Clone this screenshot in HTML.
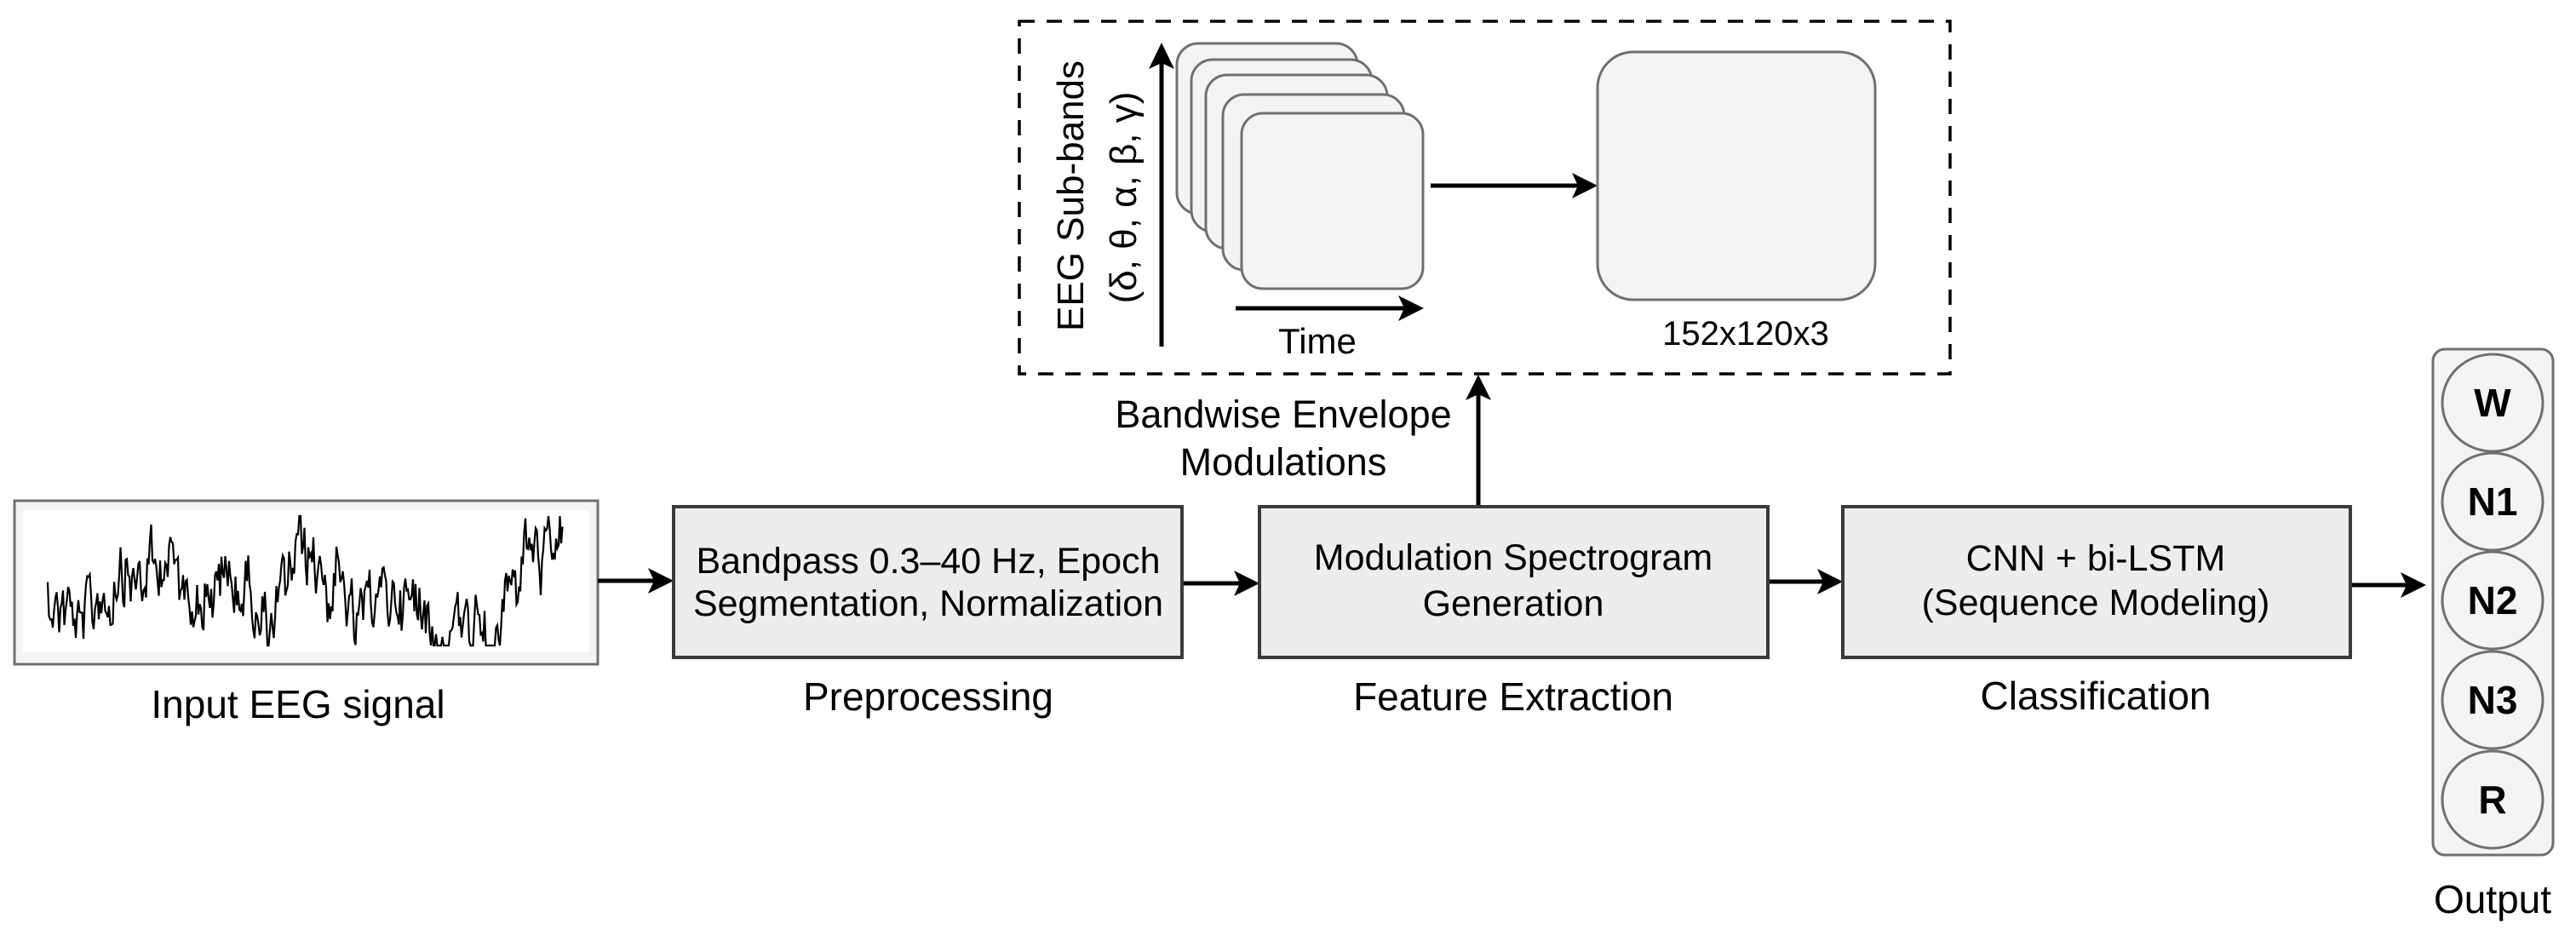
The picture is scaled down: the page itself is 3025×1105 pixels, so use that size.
<!DOCTYPE html>
<html><head><meta charset="utf-8"><style>
html,body{margin:0;padding:0;background:#fff;}
svg{display:block;}
text{font-family:"Liberation Sans",Arial,sans-serif;fill:#000;}
</style></head><body>
<svg width="3025" height="1105" viewBox="0 0 3025 1105" xmlns="http://www.w3.org/2000/svg">
<!-- dashed box -->
<rect x="1197" y="25" width="1093" height="414" fill="none" stroke="#000" stroke-width="3.5" stroke-dasharray="18,14"/>
<!-- y axis -->
<line x1="1364" y1="407" x2="1364" y2="72" stroke="#000" stroke-width="5"/>
<polygon points="1364,50 1349,81 1364,74 1379,81" fill="#000"/>
<text transform="translate(1272,230) rotate(-90)" text-anchor="middle" font-size="44">EEG Sub-bands</text>
<text transform="translate(1334,232) rotate(-90)" text-anchor="middle" font-size="44">(δ, θ, α, β, γ)</text>
<!-- cards -->
<g fill="#f4f4f4" stroke="#707070" stroke-width="3">
<rect x="1382" y="51" width="212" height="200" rx="25"/>
<rect x="1399" y="70" width="212" height="202" rx="25"/>
<rect x="1416" y="88" width="213" height="204" rx="25"/>
<rect x="1436" y="111" width="213" height="206" rx="25"/>
<rect x="1458" y="133" width="213" height="206" rx="25"/>
</g>
<!-- time arrow -->
<line x1="1451" y1="362" x2="1650" y2="362" stroke="#000" stroke-width="5"/>
<polygon points="1672,362 1642,347 1649,362 1642,377" fill="#000"/>
<text x="1547" y="415" text-anchor="middle" font-size="42">Time</text>
<!-- arrow to big box -->
<line x1="1680" y1="218" x2="1855" y2="218" stroke="#000" stroke-width="5"/>
<polygon points="1876,218 1846,203 1853,218 1846,233" fill="#000"/>
<rect x="1876" y="61" width="326" height="291" rx="42" fill="#f4f4f4" stroke="#707070" stroke-width="3"/>
<text x="2050" y="405" text-anchor="middle" font-size="40">152x120x3</text>
<!-- up arrow -->
<line x1="1736" y1="595" x2="1736" y2="462" stroke="#000" stroke-width="5"/>
<polygon points="1736,440 1721,470 1736,463 1751,470" fill="#000"/>
<text x="1507" y="502" text-anchor="middle" font-size="45">Bandwise Envelope</text>
<text x="1507" y="558" text-anchor="middle" font-size="45">Modulations</text>
<!-- input EEG box -->
<rect x="17" y="588" width="685" height="192" fill="#f4f4f4" stroke="#707070" stroke-width="3"/>
<rect x="27" y="599" width="665" height="167" fill="#fff"/>
<polyline id="wave" fill="none" stroke="#000" stroke-width="2.2" points=""/>
<text x="350" y="843" text-anchor="middle" font-size="46">Input EEG signal</text>
<!-- arrows row -->
<line x1="702" y1="682" x2="770" y2="682" stroke="#000" stroke-width="5"/>
<polygon points="791,682 761,667 768,682 761,697" fill="#000"/>
<line x1="1388" y1="685" x2="1458" y2="685" stroke="#000" stroke-width="5"/>
<polygon points="1479,685 1449,670 1456,685 1449,700" fill="#000"/>
<line x1="2076" y1="683" x2="2143" y2="683" stroke="#000" stroke-width="5"/>
<polygon points="2164,683 2134,668 2141,683 2134,698" fill="#000"/>
<line x1="2760" y1="687" x2="2828" y2="687" stroke="#000" stroke-width="5"/>
<polygon points="2849,687 2819,672 2826,687 2819,702" fill="#000"/>
<!-- boxes -->
<g fill="#ededed" stroke="#3a3a3a" stroke-width="4">
<rect x="791" y="595" width="597" height="177"/>
<rect x="1479" y="595" width="597" height="177"/>
<rect x="2164" y="595" width="596" height="177"/>
</g>
<g font-size="43" text-anchor="middle">
<text x="1090" y="673">Bandpass 0.3–40 Hz, Epoch</text>
<text x="1090" y="723">Segmentation, Normalization</text>
<text x="1777" y="669">Modulation Spectrogram</text>
<text x="1777" y="723">Generation</text>
<text x="2461" y="670">CNN + bi-LSTM</text>
<text x="2461" y="722">(Sequence Modeling)</text>
</g>
<g font-size="46" text-anchor="middle">
<text x="1090" y="834">Preprocessing</text>
<text x="1777" y="834">Feature Extraction</text>
<text x="2461" y="833">Classification</text>
<text x="2927" y="1072">Output</text>
</g>
<!-- output -->
<rect x="2857" y="410" width="141" height="594" rx="14" fill="#f4f4f4" stroke="#707070" stroke-width="3"/>
<g fill="#f4f4f4" stroke="#707070" stroke-width="3">
<ellipse cx="2927" cy="473" rx="59" ry="57"/>
<ellipse cx="2927" cy="589" rx="59" ry="57"/>
<ellipse cx="2927" cy="705" rx="59" ry="57"/>
<ellipse cx="2927" cy="822" rx="59" ry="57"/>
<ellipse cx="2927" cy="939" rx="59" ry="57"/>
</g>
<g font-size="46" font-weight="bold" text-anchor="middle">
<text x="2927" y="489">W</text>
<text x="2927" y="605">N1</text>
<text x="2927" y="721">N2</text>
<text x="2927" y="838">N3</text>
<text x="2927" y="955">R</text>
</g>
</svg>
<script>
(function(){
var s=12345;function r(){s=(s*1103515245+12345)&0x7fffffff;return s/0x7fffffff;}
var pts=[],v=0,slow=0;
for(var x=56;x<=661;x+=1.5){
 slow+= (r()-0.5)*6; slow*=0.95;
 v = 0.5*v + (r()-0.5)*60;
 var y=690+slow*6+v;
 if(y<606)y=606; if(y>758)y=758;
 pts.push(x.toFixed(1)+","+y.toFixed(1));
}
document.getElementById('wave').setAttribute('points',pts.join(' '));
})();
</script>
</body></html>
